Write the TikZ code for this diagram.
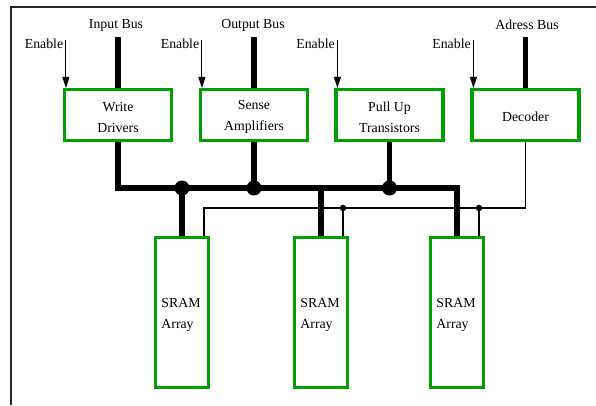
\documentclass[tikz,border=0pt]{standalone}
\usepackage{fontspec}
\setmainfont{Liberation Serif}
\usetikzlibrary{arrows.meta,calc}
\definecolor{boxgreen}{RGB}{0,160,0}
\begin{document}
\begin{tikzpicture}[x=1pt,y=-1pt,
  font=\fontsize{13.8}{21}\selectfont,
  unit/.style={draw=boxgreen, line width=3.2pt, minimum width=107pt,
    minimum height=51pt, inner sep=0pt,
    label={[align=center, yshift=-2pt]center:{#1}}},
  memarray/.style={draw=boxgreen, line width=3.2pt, minimum width=53pt,
    minimum height=150pt, inner sep=0pt,
    label={[align=left, yshift=-2.5pt, xshift=-1pt]center:{#1}}},
  bus/.style={line width=5.5pt, line join=miter},
  sig/.style={line width=1.1pt},
  enarrow/.style={line width=0.9pt, -{Triangle[length=11pt,width=7pt]}},
  tag/.style={inner sep=1pt},
]
\useasboundingbox (0,0) rectangle (596,405);

% frame
\draw[line width=1.3pt, black!85] (596,7) -- (11,7) -- (11,405);

% functional units
\node[unit={Write\\Drivers}]       (wd)  at (118,115)   {};
\node[unit={Sense\\Amplifiers}]    (sa)  at (254,115)   {};
\node[unit={Pull Up\\Transistors}] (pu)  at (389.5,115) {};
\node[unit={Decoder}]              (dec) at (525.5,115) {};

% memory arrays
\node[memarray={SRAM\\Array}] (s1) at (182,312.5) {};
\node[memarray={SRAM\\Array}] (s2) at (321,312.5) {};
\node[memarray={SRAM\\Array}] (s3) at (457,312.5) {};

% bus labels
\node[tag] (inbus)  at (116,25) {Input Bus};
\node[tag] (outbus) at (253,25) {Output Bus};
\node[tag] (adbus)  at (527,25) {Adress Bus};

\draw[bus] (wd.north |- 0,37)  -- (wd.north);
\draw[bus] (sa.north |- 0,37)  -- (sa.north);
\draw[bus] (dec.north |- 0,37) -- (dec.north);

% enable inputs
\foreach \u/\n in {wd/e1, sa/e2, pu/e3, dec/e4}{
  \coordinate (\n top) at ([xshift=3pt]\u.north west |- 0,40);
  \node[tag, anchor=east] (\n) at ([xshift=-1.5pt,yshift=-4pt]\n top) {Enable};
  \draw[enarrow] (\n top) -- ([xshift=3pt]\u.north west);
}

% data bus
\coordinate (busR) at (s3.north |- 0,188);
\coordinate (j1) at (s1.north |- 0,188);
\coordinate (j2) at (sa.south |- 0,188);
\coordinate (j3) at (s2.north |- 0,188);
\coordinate (j4) at (pu.south |- 0,188);
\draw[bus] (wd.south) |- (busR) -- (s3.north);
\draw[bus] (sa.south) -- (j2);
\draw[bus] (pu.south) -- (j4);
\draw[bus] (j1) -- (s1.north);
\draw[bus] (j3) -- (s2.north);
\fill (j1) circle (7.5pt);
\fill (j2) circle (7.5pt);
\fill (j4) circle (7.5pt);

% address lines
\coordinate (a1) at ([xshift=22pt]s1.north |- 0,208);
\coordinate (a2) at ([xshift=22pt]s2.north |- 0,208);
\coordinate (a3) at ([xshift=22pt]s3.north |- 0,208);
\draw[sig] ([xshift=22pt]s1.north) -- (a1) -- (dec.south |- 0,208) -- (dec.south);
\draw[sig] (a2) -- ([xshift=22pt]s2.north);
\draw[sig] (a3) -- ([xshift=22pt]s3.north);
\fill (a2) circle (3.2pt);
\fill (a3) circle (3.2pt);
\end{tikzpicture}
\end{document}
